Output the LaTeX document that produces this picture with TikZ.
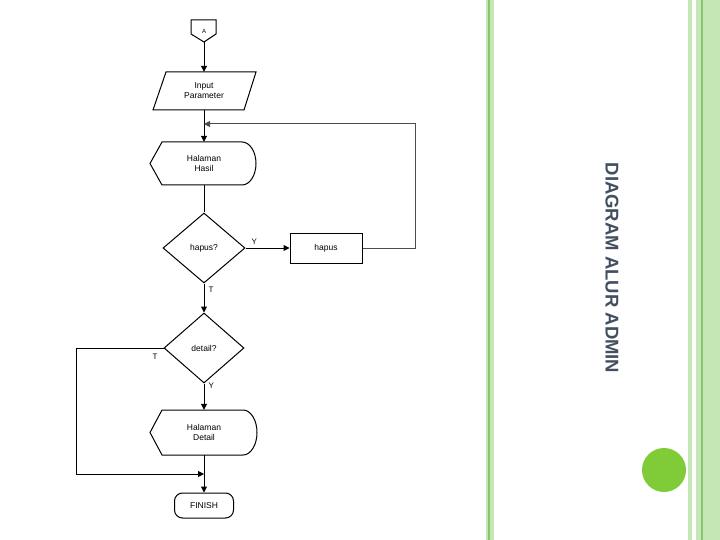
\documentclass[tikz,border=0pt]{standalone}
\usepackage{fontspec}
\setmainfont{Liberation Sans}
\usetikzlibrary{arrows.meta,shapes.geometric}
\definecolor{lg}{HTML}{C5E6B5}
\definecolor{dg}{HTML}{8CC46E}
\definecolor{dot}{HTML}{80CC38}
\definecolor{ttl}{HTML}{434F5E}
\begin{document}
\begin{tikzpicture}[x=1pt,y=-1pt,
  txt/.style={font=\fontsize{8.5}{10}\selectfont,align=center,inner sep=0pt},
  ln/.style={line width=1pt},
  arr/.style={ln,-{Triangle[length=6pt,width=6pt]}},
  lbl/.style={font=\fontsize{8}{9}\selectfont,inner sep=0pt}]
\useasboundingbox (0,0) rectangle (720,540);
% decorations
\fill[lg] (486,0) rectangle (494,540);
\draw[dg,line width=1.2pt] (489,0) -- (489,540);
\fill[lg] (688,0) rectangle (692,540);
\fill[lg] (696,0) rectangle (720,540);
\draw[dg,line width=1.2pt] (702,0) -- (702,540);
\fill[dot] (664,470) circle (22);
\node[rotate=-90,text=ttl,font=\fontsize{18.5}{20}\selectfont\bfseries,inner sep=0pt] (title) at (612,268) {DIAGRAM ALUR ADMIN};
% shapes
\draw[ln] (191,20) -- (216,20) -- (216,34) -- (204,42) -- (191,34) -- cycle;
\node[txt,minimum width=25pt,minimum height=22pt] (a) at (204,31) {\fontsize{6}{7}\selectfont A};
\draw[ln] (166,72) -- (256,72) -- (244,110) -- (153,110) -- cycle;
\node[txt,minimum width=100pt,minimum height=38pt] (inp) at (204,91) {Input\\Parameter};
\draw[ln] (162,142) -- (242,142) arc[start angle=-90,end angle=90,y radius=-21.5pt,x radius=14pt] -- (162,185) -- (150,163.5) -- cycle;
\node[txt,minimum width=106pt,minimum height=43pt] (hasil) at (204,163.5) {Halaman\\Hasil};
\node[diamond,draw,ln,minimum width=82pt,minimum height=70pt,inner sep=0pt,txt] (hap) at (204,248) {hapus?};
\node[draw,ln,minimum width=72pt,minimum height=30pt,txt] (hapus) at (326,248) {hapus};
\node[diamond,draw,ln,minimum width=80pt,minimum height=70pt,inner sep=0pt,txt] (det) at (204,348) {detail?};
\draw[ln] (162,410) -- (243,410) arc[start angle=-90,end angle=90,y radius=-22.5pt,x radius=14pt] -- (162,455) -- (150,432.5) -- cycle;
\node[txt,minimum width=107pt,minimum height=45pt] (detail) at (204,432.5) {Halaman\\Detail};
\node[draw,ln,rounded corners=8pt,minimum width=59pt,minimum height=25pt,txt] (fin) at (204,505.5) {FINISH};
% connectors
\draw[arr] (a) -- (inp);
\draw[arr] (inp.south) -- (hasil.north);
\draw[ln] (hasil.south) -- (hap.north);
\draw[arr] (hap.east) -- (hapus.west) node[lbl,pos=0.2,above=3pt] {Y};
\coordinate (c1) at (415,248);
\coordinate (c2) at (415,124);
\coordinate (c3) at (204,124);
\draw[arr,gray!60!black] (hapus.east) -- (c1) -- (c2) -- (c3);
\draw[arr] (hap.south) -- (det.north) node[lbl,pos=0.2,right=4pt] {T};
\draw[arr] (det.south) -- (detail.north) node[lbl,pos=0.1,right=4pt] {Y};
\coordinate (d1) at (76,348);
\coordinate (d2) at (76,474);
\coordinate (d3) at (204,474);
\draw[arr] (det.west) -- (d1) -- (d2) -- (d3);
\node[lbl] (tl) at (155,357) {T};
\draw[arr] (detail.south) -- (fin.north);
\end{tikzpicture}
\end{document}
